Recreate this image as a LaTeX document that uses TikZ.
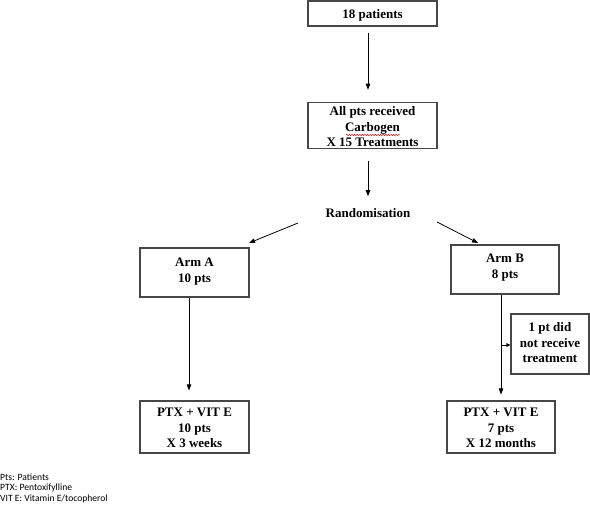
\documentclass[tikz,border=0pt]{standalone}
\usepackage{fontspec}
\setmainfont{Liberation Serif}
\newfontfamily\legendfont{Carlito}
\usetikzlibrary{arrows.meta,decorations.pathmorphing}
\newcommand\bxtext[2]{\raisebox{#1}[\height][\depth]{\begin{tabular}{@{}c@{}}#2\end{tabular}}}
\begin{document}
\begin{tikzpicture}[x=1pt,y=-1pt,
  box/.style={draw=black!72,line width=1.1pt,align=center,inner sep=0pt,
    font=\fontsize{13}{15.5}\selectfont\bfseries},
  conn/.style={draw=black,line width=0.8pt,-{Triangle[length=6pt,width=4.5pt]}},
  smallconn/.style={draw=black,line width=0.8pt,-{Triangle[length=4pt,width=3.5pt]}},
  legend/.style={anchor=west,inner sep=0pt,font=\legendfont\fontsize{9.6}{11}\selectfont}]
\useasboundingbox (0,0) rectangle (590,510);
\node[box,minimum width=129pt,minimum height=25pt] (b1) at (372.5,13.5) {\bxtext{-2pt}{18 patients}};
\node[box,minimum width=129pt,minimum height=45pt] (b2) at (372.5,125.5) {\bxtext{-2.5pt}{All pts received\\Carbogen\\X 15 Treatments}};
\node[inner sep=0pt,font=\fontsize{13}{15.5}\selectfont\bfseries] (rand) at (368,213) {Randomisation};
\node[box,minimum width=109pt,minimum height=49pt] (armA) at (194.5,272.5) {\bxtext{1pt}{Arm A\\10 pts}};
\node[box,minimum width=108pt,minimum height=49pt] (armB) at (505,269.5) {\bxtext{2pt}{Arm B\\8 pts}};
\node[box,minimum width=78pt,minimum height=60pt] (skip) at (550,344) {\bxtext{0pt}{1 pt did\\not receive\\treatment}};
\node[box,minimum width=109pt,minimum height=52pt] (ptxA) at (194.5,427) {\bxtext{-2pt}{PTX + VIT E\\10 pts\\X 3 weeks}};
\node[box,minimum width=108pt,minimum height=52pt] (ptxB) at (501,427) {\bxtext{-2pt}{PTX + VIT E\\7 pts\\X 12 months}};
% spell-check underline
\draw[red!85!black,line width=0.45pt,decorate,decoration={snake,amplitude=0.7pt,segment length=2.6pt}] (346,135) -- (400,135);
% connectors
\draw[conn,shorten <=6pt,shorten >=12pt] (b1.south -| 368,0) -- (b2.north -| 368,0);
\draw[conn,shorten <=12pt,shorten >=12pt] (b2.south -| 368,0) -- (rand.north);
\coordinate (rl) at (298,223);
\coordinate (rr) at (437,222);
\coordinate (al) at (249,243);
\coordinate (ar) at (478,243);
\draw[conn] (rl) -- (al);
\draw[conn] (rr) -- (ar);
\draw[conn,shorten >=10pt] (armA.south -| 189,0) -- (ptxA.north -| 189,0);
\draw[conn,shorten >=6pt] (armB.south -| 501,0) -- (ptxB.north -| 501,0);
\coordinate (side) at (501,345);
\draw[smallconn] (side) -- (skip.west |- side);
% legend
\node[legend] (l1) at (0,477.5) {Pts: Patients};
\node[legend] (l2) at (0,488) {PTX: Pentoxifylline};
\node[legend] (l3) at (0,498.5) {VIT E: Vitamin E/tocopherol};
\end{tikzpicture}
\end{document}
